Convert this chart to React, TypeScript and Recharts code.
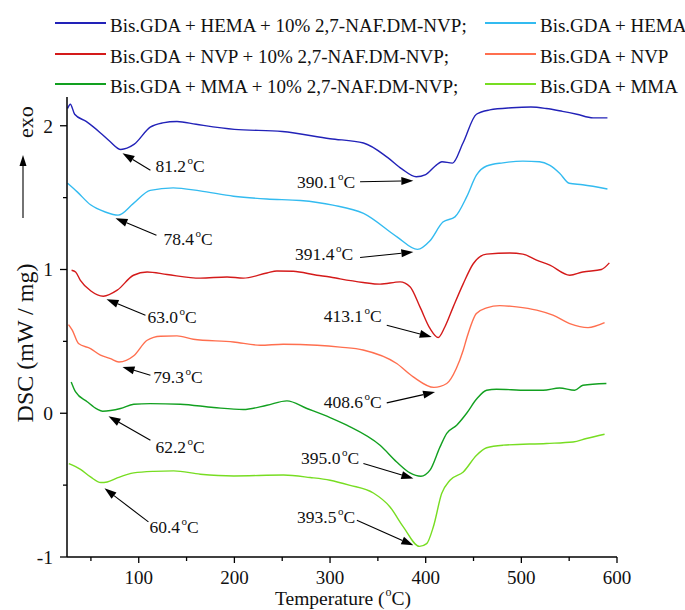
import { LineChart, Line, XAxis, YAxis, Legend, ReferenceLine, ReferenceDot } from 'recharts';

const FONT = "'Liberation Serif', 'Times New Roman', serif";

// temperatures (°C) and DSC signal (mW/mg)
const T_HEMA_NAF = [25.6, 28.5, 33, 45, 60, 70, 81.2, 95, 112, 125, 140, 160, 200, 250, 300, 335, 360, 375, 390.1, 400, 410, 417, 428, 439, 453, 467, 490, 510, 526, 543, 558, 575, 590];
const Y_HEMA_NAF = [2.12, 2.15, 2.08, 2.03, 1.95, 1.89, 1.835, 1.87, 1.99, 2.02, 2.03, 2.01, 1.975, 1.96, 1.91, 1.88, 1.78, 1.7, 1.645, 1.66, 1.72, 1.75, 1.74, 1.88, 2.08, 2.11, 2.125, 2.13, 2.12, 2.1, 2.08, 2.055, 2.055];

const T_HEMA = [25.6, 35.7, 49.6, 65, 78.4, 94.5, 112, 136, 164, 199, 234, 269, 303, 335, 370, 391.4, 404.5, 418, 430.6, 442.8, 453, 463.7, 480.7, 501.6, 519, 529.4, 540, 550, 564, 590];
const Y_HEMA = [1.6, 1.54, 1.45, 1.4, 1.378, 1.46, 1.55, 1.568, 1.547, 1.51, 1.49, 1.48, 1.448, 1.39, 1.227, 1.14, 1.2, 1.33, 1.366, 1.505, 1.656, 1.72, 1.742, 1.754, 1.75, 1.726, 1.67, 1.6, 1.59, 1.56];

const T_NVP_NAF = [29.8, 34, 39, 50, 63, 77.5, 94.5, 108.8, 129.6, 164.4, 192.3, 209.3, 234, 244.5, 261.5, 286.2, 300, 310.5, 334.6, 352.3, 373.2, 383.6, 394, 404.5, 413.1, 420, 428.8, 439.2, 449.7, 463.7, 488, 501.6, 515.9, 529.8, 550.6, 564.2, 583.7, 592];
const Y_NVP_NAF = [0.995, 0.983, 0.925, 0.85, 0.814, 0.856, 0.96, 0.983, 0.965, 0.94, 0.948, 0.94, 0.976, 0.99, 0.988, 0.96, 0.948, 0.935, 0.91, 0.898, 0.914, 0.88, 0.74, 0.59, 0.527, 0.6, 0.74, 0.9, 1.04, 1.107, 1.115, 1.107, 1.065, 1.03, 0.96, 0.983, 1.0, 1.046];

const T_NVP = [26.6, 30.5, 37, 49.6, 60, 70.5, 79.3, 94.8, 108.8, 122.7, 140, 157, 199, 227, 251, 286.5, 310.5, 334.6, 369.7, 387, 408.6, 422, 432, 439.3, 442.8, 453, 463.7, 477.5, 495, 516, 533, 550.6, 569.7, 587];
const Y_NVP = [0.617, 0.578, 0.485, 0.45, 0.404, 0.38, 0.357, 0.4, 0.508, 0.536, 0.538, 0.515, 0.496, 0.473, 0.48, 0.473, 0.46, 0.44, 0.346, 0.253, 0.18, 0.207, 0.311, 0.44, 0.52, 0.694, 0.733, 0.749, 0.74, 0.717, 0.682, 0.624, 0.596, 0.63];

const T_MMA_NAF = [29.4, 34, 46.1, 56.6, 62.2, 80.9, 94.8, 112, 143.5, 178.3, 209.3, 234, 254.9, 275.8, 300, 317.5, 352.3, 369.7, 383.6, 395, 404.5, 415, 422, 432.4, 442.8, 453, 463.7, 474, 505.4, 522.8, 540, 555.7, 564.4, 588.9];
const Y_MMA_NAF = [0.218, 0.148, 0.08, 0.028, 0.014, 0.033, 0.063, 0.067, 0.063, 0.04, 0.026, 0.056, 0.086, 0.033, -0.03, -0.083, -0.223, -0.339, -0.415, -0.438, -0.396, -0.234, -0.14, -0.083, 0.0, 0.097, 0.16, 0.167, 0.16, 0.16, 0.176, 0.16, 0.195, 0.207];

const T_MMA = [26.9, 39.1, 49.6, 60.4, 67, 77.5, 94.8, 115.7, 136.5, 164.4, 199.4, 251.4, 279.2, 300, 320, 345.3, 362.7, 376.6, 393.5, 401, 408, 416.7, 425.4, 439.3, 453.2, 463.7, 481, 526.3, 554, 568, 587];
const Y_MMA = [-0.35, -0.39, -0.443, -0.482, -0.478, -0.45, -0.415, -0.404, -0.401, -0.424, -0.436, -0.43, -0.447, -0.466, -0.5, -0.555, -0.652, -0.79, -0.926, -0.907, -0.79, -0.559, -0.466, -0.408, -0.292, -0.24, -0.222, -0.21, -0.2, -0.176, -0.146];

const X_TICKS = [50, 100, 150, 200, 250, 300, 350, 400, 450, 500, 550, 600];
const Y_TICKS = [-1, -0.5, 0, 0.5, 1, 1.5, 2];

const zip = (t: number[], v: number[]) => t.map((x, i) => ({ t: x, v: v[i] }));

const SERIES = [
  { name: 'Bis.GDA + HEMA + 10% 2,7-NAF.DM-NVP;', color: '#2222b8', data: zip(T_HEMA_NAF, Y_HEMA_NAF) },
  { name: 'Bis.GDA + HEMA', color: '#33bbf0', data: zip(T_HEMA, Y_HEMA) },
  { name: 'Bis.GDA + NVP + 10% 2,7-NAF.DM-NVP;', color: '#d41a1a', data: zip(T_NVP_NAF, Y_NVP_NAF) },
  { name: 'Bis.GDA + NVP', color: '#ff6f4f', data: zip(T_NVP, Y_NVP) },
  { name: 'Bis.GDA + MMA + 10% 2,7-NAF.DM-NVP;', color: '#12a020', data: zip(T_MMA_NAF, Y_MMA_NAF) },
  { name: 'Bis.GDA + MMA', color: '#77dd22', data: zip(T_MMA, Y_MMA) },
];

// peak labels: text anchor, arrow tail and arrow tip, all in data units
const PEAKS = [
  { text: '81.2', at: [117.4, 1.677], anchor: 'start', tail: [112.2, 1.691], tip: [83.0, 1.809] },
  { text: '78.4', at: [125.8, 1.169], anchor: 'start', tail: [118.5, 1.239], tip: [75.7, 1.357] },
  { text: '63.0', at: [109.1, 0.628], anchor: 'start', tail: [107.0, 0.682], tip: [66.3, 0.793] },
  { text: '79.3', at: [115.3, 0.209], anchor: 'start', tail: [112.2, 0.265], tip: [83.0, 0.322] },
  { text: '62.2', at: [117.4, -0.276], anchor: 'start', tail: [112.2, -0.188], tip: [68.4, -0.021] },
  { text: '60.4', at: [111.2, -0.835], anchor: 'start', tail: [110.1, -0.756], tip: [64.2, -0.522] },
  { text: '390.1', at: [326.2, 1.566], anchor: 'end', tail: [331.4, 1.61], tip: [387.1, 1.617] },
  { text: '391.4', at: [324.1, 1.065], anchor: 'end', tail: [331.4, 1.083], tip: [387.1, 1.122] },
  { text: '413.1', at: [354.1, 0.635], anchor: 'end', tail: [359.3, 0.612], tip: [406.3, 0.531] },
  { text: '408.6', at: [354.1, 0.04], anchor: 'end', tail: [359.3, 0.072], tip: [409.8, 0.148] },
  { text: '395.0', at: [330.4, -0.35], anchor: 'end', tail: [334.9, -0.35], tip: [387.1, -0.454] },
  { text: '393.5', at: [326.2, -0.763], anchor: 'end', tail: [328.0, -0.745], tip: [387.1, -0.919] },
];

function Arrow(props: any) {
  const { x1, y1, x2, y2 } = props;
  const dx = x2 - x1;
  const dy = y2 - y1;
  const len = Math.sqrt(dx * dx + dy * dy) || 1;
  const ux = dx / len;
  const uy = dy / len;
  const head = 12;
  const half = 4;
  const bx = x2 - ux * head;
  const by = y2 - uy * head;
  return (
    <g>
      <line x1={x1} y1={y1} x2={bx} y2={by} stroke="#000" strokeWidth={1.1} />
      <polygon
        points={`${x2},${y2} ${bx - uy * half},${by + ux * half} ${bx + uy * half},${by - ux * half}`}
        fill="#000"
      />
    </g>
  );
}

function PeakText({ cx, cy, text, anchor }: any) {
  return (
    <text x={cx} y={cy} textAnchor={anchor} fontFamily={FONT} fontSize={17.5} fill="#111">
      {text}
      <tspan dx={1.5} dy={-8} fontSize={11}>o</tspan>
      <tspan dy={8}>C</tspan>
    </text>
  );
}

function XTick({ x, y, payload }: any) {
  const major = payload.value % 100 === 0;
  return (
    <g>
      <line x1={x} x2={x} y1={y} y2={y + (major ? 6 : 4)} stroke="#000" strokeWidth={1.3} />
      {major && (
        <text x={x} y={y + 26.5} textAnchor="middle" fontFamily={FONT} fontSize={19} fill="#111">
          {payload.value}
        </text>
      )}
    </g>
  );
}

function YTick({ x, y, payload }: any) {
  const major = Number.isInteger(payload.value);
  return (
    <g>
      <line x1={x} x2={x - (major ? 7 : 4)} y1={y} y2={y} stroke="#000" strokeWidth={1.3} />
      {major && (
        <text x={x - 14} y={y} dy="0.35em" textAnchor="end" fontFamily={FONT} fontSize={19.5} fill="#111">
          {payload.value}
        </text>
      )}
    </g>
  );
}

function YLabel({ viewBox }: any) {
  const bx = viewBox.x + 26;
  const cy = viewBox.y + 246;
  const ey = viewBox.y + 25;
  const ax = viewBox.x + 16;
  const top = viewBox.y + 58;
  const bottom = viewBox.y + 121;
  return (
    <g fontFamily={FONT} fill="#111">
      <text x={bx} y={cy} transform={`rotate(-90 ${bx} ${cy})`} textAnchor="middle" fontSize={24}>
        DSC (mW / mg)
      </text>
      <text x={bx} y={ey} transform={`rotate(-90 ${bx} ${ey})`} textAnchor="middle" fontSize={22}>
        exo
      </text>
      <line x1={ax} x2={ax} y1={bottom} y2={top + 10} stroke="#000" strokeWidth={1.1} />
      <polygon points={`${ax},${top} ${ax - 3.5},${top + 11} ${ax + 3.5},${top + 11}`} fill="#000" />
    </g>
  );
}

function XLabel({ viewBox }: any) {
  const cx = viewBox.x + 276;
  const by = viewBox.y + 48;
  return (
    <text x={cx} y={by} textAnchor="middle" fontFamily={FONT} fontSize={19.5} fill="#111">
      Temperature (<tspan dx={1} dy={-9} fontSize={12}>o</tspan>
      <tspan dy={9}>C)</tspan>
    </text>
  );
}

// two columns: combined systems on the left, plain systems on the right
function LegendBox() {
  const rows = [23, 54, 84];
  return (
    <div style={{ position: 'relative', width: 685, height: 100, fontFamily: FONT, fontSize: 19, color: '#111' }}>
      {SERIES.map((s, i) => {
        const row = rows[Math.floor(i / 2)];
        const lineX = i % 2 === 0 ? 55 : 485;
        const textX = i % 2 === 0 ? 110 : 540;
        return (
          <div key={s.name}>
            <div style={{ position: 'absolute', left: lineX, top: row - 1, width: 51, height: 2, background: s.color }} />
            <span style={{ position: 'absolute', left: textX, top: row - 9, lineHeight: '24px', whiteSpace: 'nowrap' }}>
              {s.name}
            </span>
          </div>
        );
      })}
    </div>
  );
}

export default function App() {
  return (
    <div style={{ position: 'absolute', left: 0, top: 0, background: '#fff' }}>
      <LineChart width={685} height={610} margin={{ top: 97, right: 68, bottom: 8, left: 7 }}>
        <XAxis
          type="number"
          dataKey="t"
          domain={[25, 600]}
          ticks={X_TICKS}
          interval={0}
          allowDataOverflow
          height={45}
          tickSize={0}
          tickMargin={0}
          tickLine={false}
          axisLine={{ stroke: '#000', strokeWidth: 1.5 }}
          tick={<XTick />}
          label={<XLabel />}
        />
        <YAxis
          type="number"
          domain={[-1, 2.2]}
          ticks={Y_TICKS}
          interval={0}
          allowDataOverflow
          width={60}
          tickSize={0}
          tickMargin={0}
          tickLine={false}
          axisLine={{ stroke: '#000', strokeWidth: 1.5 }}
          tick={<YTick />}
          label={<YLabel />}
        />
        <Legend
          layout="horizontal"
          verticalAlign="middle"
          align="center"
          wrapperStyle={{ top: 0, left: 0, width: 685, height: 100 }}
          content={<LegendBox />}
        />
        {SERIES.map((s) => (
          <Line
            key={s.name}
            data={s.data}
            dataKey="v"
            name={s.name}
            type="monotone"
            stroke={s.color}
            strokeWidth={1.4}
            dot={false}
            activeDot={false}
            isAnimationActive={false}
          />
        ))}
        {PEAKS.map((p) => (
          <ReferenceLine
            key={`arrow-${p.text}`}
            segment={[
              { x: p.tail[0], y: p.tail[1] },
              { x: p.tip[0], y: p.tip[1] },
            ]}
            shape={(props: any) => <Arrow {...props} />}
          />
        ))}
        {PEAKS.map((p) => (
          <ReferenceDot
            key={`text-${p.text}`}
            x={p.at[0]}
            y={p.at[1]}
            r={0}
            shape={(props: any) => <PeakText {...props} text={p.text} anchor={p.anchor} />}
          />
        ))}
      </LineChart>
    </div>
  );
}
